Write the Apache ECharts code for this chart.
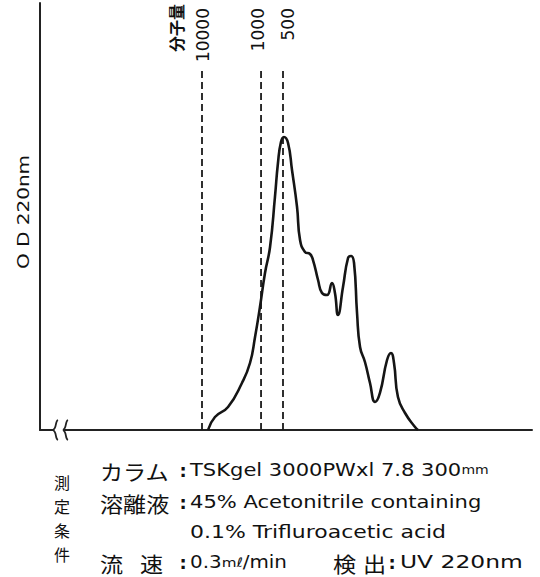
<!DOCTYPE html>
<html>
<head>
<meta charset="utf-8">
<script src="https://cdn.jsdelivr.net/npm/echarts@6/dist/echarts.min.js"></script>
<style>
html,body{margin:0;padding:0;background:#fff;}
#chart{width:540px;height:577px;}
</style>
</head>
<body>
<div id="chart"></div>
<script>
// Elution time (arbitrary units) and OD 220nm (relative)
const time = [14.00, 14.58, 15.67, 16.83, 17.50, 17.92, 18.33, 18.75, 19.17, 19.58, 19.83, 20.08, 20.33, 20.67, 21.00, 21.42, 21.67, 22.08, 22.50, 22.75, 23.17, 23.50, 23.92, 24.33, 24.58, 24.83, 25.25, 25.67, 25.92, 26.17, 26.42, 26.67, 27.08, 27.50, 27.92, 28.33, 28.92, 29.25, 29.50, 29.83, 30.42, 31.25, 31.50];
const od   = [0, 3.04, 5.39, 11.01, 15.69, 21.78, 28.81, 36.77, 42.86, 54.57, 62.53, 67.45, 68.62, 67.21, 60.89, 52.22, 44.50, 41.69, 41.22, 39.81, 35.13, 32.08, 31.62, 34.43, 32.08, 26.93, 33.49, 40.28, 40.75, 39.11, 27.40, 19.44, 15.93, 11.01, 6.56, 8.67, 16.39, 18.03, 15.69, 7.73, 3.98, 0.70, 0];

// Molecular weight markers
const markerTimes  = [13.5, 18.42, 20.25];
const markerLabels = ['10000', '1000', '500'];
const markerTop = 84.3;

// Axis ranges
const xMin = 0, xMax = 41, yMin = 0, yMax = 100;

// Texts
const yTitle = 'O D 220nm';
const mwTitle = '分子量';
const condTitle = ['測', '定', '条', '件'];

const chart = echarts.init(document.getElementById('chart'), null, {renderer: 'svg'});

const curve = time.map((t, i) => [t, od[i]]);
const series = [{
  type: 'line',
  data: curve,
  smooth: 0.5,
  symbol: 'none',
  lineStyle: {color: '#151515', width: 2.6},
  z: 5
}];
markerTimes.forEach((t) => {
  series.push({
    type: 'line',
    data: [[t, 0], [t, markerTop]],
    symbol: 'none',
    lineStyle: {color: '#1a1a1a', width: 1.8, type: [7, 4]},
    z: 3
  });
});

chart.setOption({
  animation: false,
  backgroundColor: '#fff',
  grid: {left: 40, right: 8, top: 3, bottom: 147},
  xAxis: {
    type: 'value', min: xMin, max: xMax,
    axisLine: {show: true, onZero: false, lineStyle: {color: '#222', width: 2}},
    axisTick: {show: false}, axisLabel: {show: false}, splitLine: {show: false}
  },
  yAxis: {
    type: 'value', min: yMin, max: yMax,
    axisLine: {show: true, lineStyle: {color: '#222', width: 2}},
    axisTick: {show: false}, axisLabel: {show: false}, splitLine: {show: false}
  },
  series: series
});

const cjk = '"Noto Sans CJK JP", sans-serif';
const lat = '"DejaVu Sans", sans-serif';
const graphic = [];

// axis break marks
const base = chart.convertToPixel({gridIndex: 0}, [0, 0]);
const by = base[1];
graphic.push({type: 'rect', shape: {x: 54, y: by - 3, width: 10, height: 6}, style: {fill: '#fff'}, z: 10});
[56, 66].forEach((bx) => {
  graphic.push({
    type: 'bezierCurve', z: 11,
    shape: {x1: bx + 2, y1: by - 10, cpx1: bx - 1, cpy1: by - 9, cpx2: bx + 1, cpy2: by - 2, x2: bx - 3, y2: by},
    style: {stroke: '#222', lineWidth: 1.8, fill: null}
  });
  graphic.push({
    type: 'bezierCurve', z: 11,
    shape: {x1: bx - 3, y1: by, cpx1: bx + 1, cpy1: by + 2, cpx2: bx - 1, cpy2: by + 9, x2: bx + 2, y2: by + 10},
    style: {stroke: '#222', lineWidth: 1.8, fill: null}
  });
});

// marker labels
const labelShift = [1, -3, 5];
markerTimes.forEach((t, i) => {
  const p = chart.convertToPixel({gridIndex: 0}, [t, yMax]);
  graphic.push({
    type: 'text', x: p[0] + labelShift[i], y: 8, rotation: Math.PI / 2,
    style: {text: markerLabels[i], font: '17px ' + lat, fill: '#111', align: 'right', verticalAlign: 'middle'}
  });
});
graphic.push({
  type: 'text', x: 176, y: 4, rotation: Math.PI / 2,
  style: {text: mwTitle, font: 'bold 16px ' + cjk, fill: '#111', align: 'right', verticalAlign: 'middle'}
});

// y-axis title
graphic.push({
  type: 'text', x: 23, y: 212, rotation: Math.PI / 2, scaleX: 1.25,
  style: {text: yTitle, font: '16px ' + lat, fill: '#111', align: 'center', verticalAlign: 'middle'}
});

// measurement conditions (vertical heading)
condTitle.forEach((c, i) => {
  graphic.push({type: 'text', x: 62, y: 482 + i * 24,
    style: {text: c, font: '16px ' + cjk, fill: '#111', align: 'center', verticalAlign: 'middle'}});
});

function t(x, y, text, font, sx, extra) {
  graphic.push({type: 'text', x: x, y: y, scaleX: sx || 1,
    style: Object.assign({text: text, font: font, fill: '#111', align: 'left', verticalAlign: 'middle'}, extra || {})});
}
function colon(x, y) {
  graphic.push({type: 'text', x: x, y: y, style: {text: ':', font: 'bold 18px ' + lat, fill: '#111', align: 'center', verticalAlign: 'middle'}});
}
const rows = [470, 502, 532, 562];
const L = '18px ' + lat;
t(100, rows[0], 'カラム', '21px ' + cjk, 1.1);
colon(183, rows[0]);
t(190, rows[0], '{a|TSKgel 3000PWxl 7.8 300}{b|mm}', L, 1.17, {rich: {a: {font: L, fill: '#111'}, b: {font: '12px ' + lat, fill: '#111'}}});
t(100, rows[1], '溶離液', '21px ' + cjk, 1.1);
colon(183, rows[1]);
t(190, rows[1], '45% Acetonitrile containing', L, 1.17);
t(190, rows[2], '0.1% Trifluroacetic acid', L, 1.22);
t(100, rows[3], '流', '21px ' + cjk, 1.1);
t(140, rows[3], '速', '21px ' + cjk, 1.1);
colon(183, rows[3]);
t(190, rows[3], '{a|0.3}{b|mℓ}{a|/min}', '17px ' + lat, 1.17, {rich: {a: {font: '17px ' + lat, fill: '#111'}, b: {font: '13px ' + lat, fill: '#111'}}});
t(333, rows[3], '検', '21px ' + cjk, 1.1);
t(363, rows[3], '出', '21px ' + cjk, 1.1);
colon(392, rows[3]);
t(400, rows[3], 'UV 220nm', L, 1.3);

chart.setOption({graphic: graphic});
</script>
</body>
</html>
